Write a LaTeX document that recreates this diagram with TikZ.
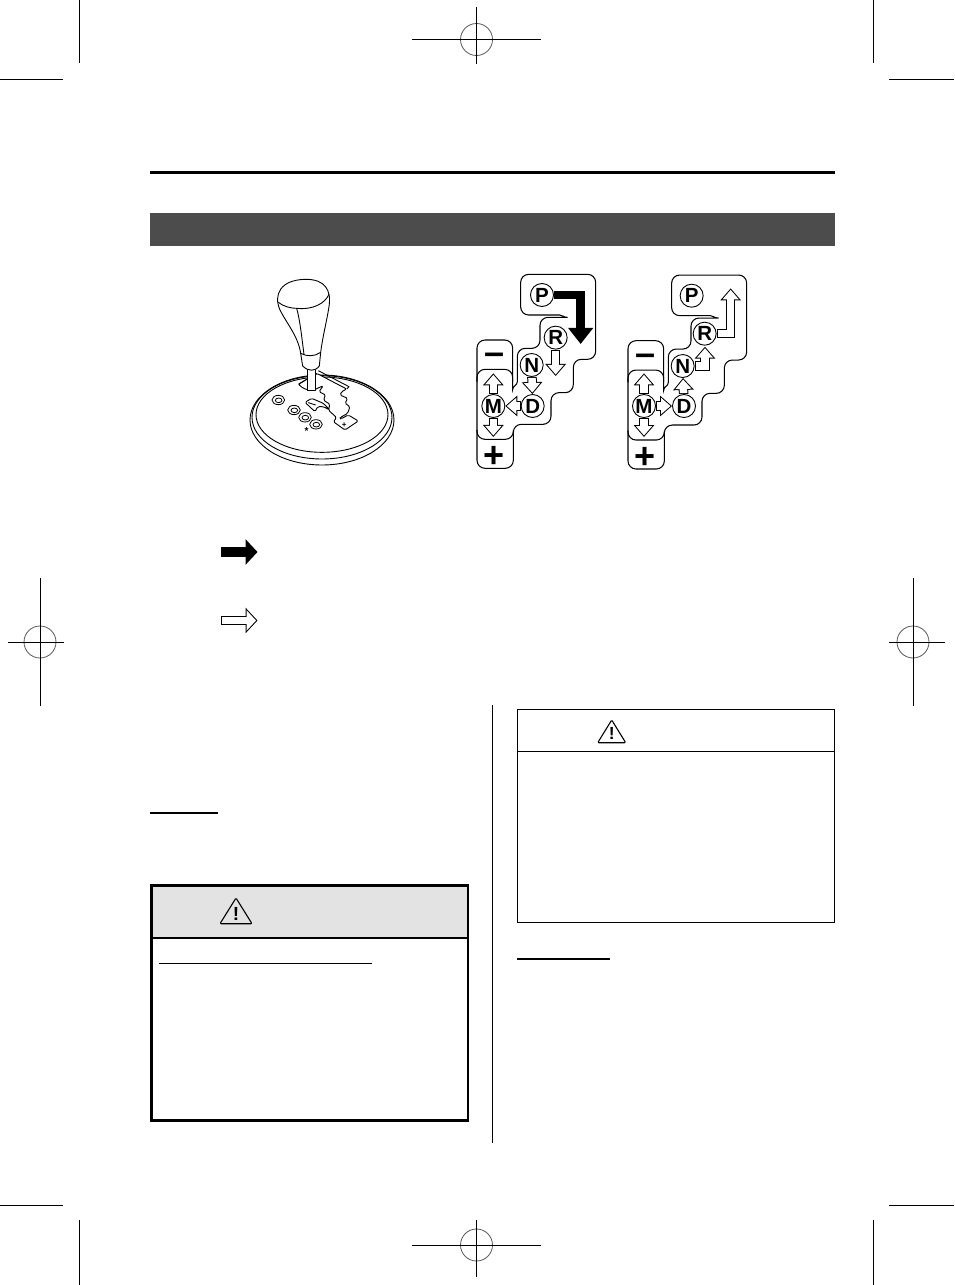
\documentclass[tikz,border=0pt]{standalone}
\usepackage{fontspec}
\setmainfont{Liberation Sans}
\usetikzlibrary{arrows.meta}
\pgfdeclarelayer{arrowlayer}
\pgfsetlayers{arrowlayer,main}
\tikzset{
  crop/.style={line width=1pt,black},
  regring/.style={line width=0.8pt,black!65},
  rule/.style={black,line width=2pt},
  gateline/.style={line width=1.05pt,rounded corners=8pt},
  art/.style={line width=0.9pt,black,line join=round},
  letter/.style={circle,draw=black,line width=0.9pt,fill=white,minimum size=23pt,inner sep=0pt,font=\fontsize{20.5}{21}\selectfont\bfseries},
  sign/.style={inner sep=0pt,font=\fontsize{36}{36}\selectfont\bfseries},
  outerarrow/.style={black,line width=9.5pt,line join=miter,-{Triangle[length=12pt,width=#1pt]}},
  innerarrow/.style={white,line width=7.5pt,line join=miter,shorten >=1.5pt,shorten <=1pt,-{Triangle[length=9.5pt,width=#1pt]}},
  solidarrow/.style={black,line width=#1pt,line join=miter},
  warn/.style={line width=1.1pt,line join=round,rounded corners=1pt}
}
% hollow block arrow: head width, inner head width, path
\newcommand{\hollowarrow}[3]{%
  \begin{pgfonlayer}{arrowlayer}
  \draw[outerarrow=#1] #3;
  \draw[innerarrow=#2] #3;
  \end{pgfonlayer}}
\newcommand{\reg}[6]{% centre x y, line extents
  \draw[regring] (#1,#2) circle (16);
  \draw[crop] (#3,#2) -- (#4,#2);
  \draw[crop] (#1,#5) -- (#1,#6);}
\newcommand{\gateoutline}{%
  \draw[gateline] (157,350) -- (157,250) -- (225,250) -- (225,157) -- (284,157) [sharp corners] .. controls (293,157) and (293,150) .. (284,150) [rounded corners=8pt] -- (167,150) -- (167,28) -- (392,28) -- (392,283) -- (325,283) -- (325,383) -- (258,383) -- (258,478) -- (145,478) -- (145,610) -- (36,610) -- (36,225) -- (143,225) -- (143,350) [sharp corners] .. controls (143,362) and (157,362) .. (157,350);
  \draw[gateline] (36,350) -- (36,313) -- (143,313) -- (143,350);
  \draw[gateline] (36,495) -- (36,523) -- (145,523) -- (145,495);
  \node[sign] (minus) at (88,281) {\raisebox{-0.27em}{\rule{0pt}{0pt}–}};
  \node[sign] (plus) at (88,577) {+};}
\begin{document}
\begin{tikzpicture}[x=1pt,y=-1pt]
\useasboundingbox (0,0) rectangle (954,1285);
% crop marks
\draw[crop] (79,0) -- (79,63);
\draw[crop] (0,79) -- (63,79);
\draw[crop] (873,0) -- (873,63);
\draw[crop] (889,79) -- (954,79);
\draw[crop] (0,1205) -- (63,1205);
\draw[crop] (79,1220) -- (79,1285);
\draw[crop] (889,1205) -- (954,1205);
\draw[crop] (873,1220) -- (873,1285);
\reg{476.5}{39.5}{412}{541}{7}{64}
\reg{476.5}{1245}{412}{541}{1220}{1277}
\reg{40}{642}{8}{64}{578}{706}
\reg{913}{642}{889}{945}{578}{706}
% header
\draw[black,line width=3pt] (150,172) -- (835,172);
\fill[black!70] (150,213) rectangle (835,246);
% gear lever: plate
\begin{scope}[shift={(250,360)},x=0.3333pt,y=-0.3333pt]
  \draw[art] (216,180) ellipse [x radius=216,y radius=135];
  \draw[art] (216,172) ellipse [x radius=210,y radius=125];
  \draw[art] (216,164) ellipse [x radius=198,y radius=113];
\end{scope}
% gear lever: gate slot
\begin{scope}[shift={(295,365)},x=0.3333pt,y=-0.3333pt]
  \draw[art,fill=white,rounded corners=1.5pt] (10,58) -- (25,70) -- (50,78) -- (85,62) -- (72,80) -- (92,90) -- (85,105) -- (105,118) -- (100,135) -- (125,158) -- (115,170) -- (150,195) -- (190,168) -- (160,150) -- (137,162) -- (135,158) -- (158,145) -- (165,125) -- (150,115) -- (158,100) -- (135,90) -- (140,80) -- (155,72) -- (65,25) -- cycle;
  \draw[art] (10,58) -- (65,25);
  \draw[art] (70,17) -- (162,65) -- (155,72);
  \draw[art,fill=white,rounded corners=1.5pt] (30,112) -- (50,100) -- (85,115) -- (105,135) -- (85,125) -- (68,125) -- (60,140) -- cycle;
  \draw[art] (40,113) -- (62,120);
  \node[inner sep=0pt,font=\fontsize{8}{8}\selectfont\bfseries] (tabplus) at (148,180) {+};
\end{scope}
% gear lever: selector rings
\begin{scope}[shift={(255,385)},x=0.3333pt,y=-0.3333pt]
  \foreach \rx/\ry in {70/45,117/75,150/97,183/118}{
    \draw[art,line width=0.8pt] (\rx,\ry) ellipse [x radius=19,y radius=14];
    \draw[art,line width=0.8pt] (\rx+1,\ry+1) ellipse [x radius=10,y radius=7];
  }
  \node[inner sep=0pt,font=\fontsize{10}{10}\selectfont\bfseries] (star) at (155,139) {*};
\end{scope}
% gear lever: knob
\begin{scope}[shift={(230,265)},x=0.3333pt,y=-0.3333pt]
  \draw[art,fill=white] (232,312) -- (232,375) -- (256,375) -- (256,312);
  \draw[art,fill=white] (212,265) -- (218,303) .. controls (235,320) and (255,320) .. (268,303) -- (272,262) -- cycle;
  \draw[art,fill=white] (212,265) .. controls (205,215) and (170,175) .. (150,135) .. controls (130,90) and (150,45) .. (225,43) .. controls (285,42) and (305,75) .. (297,125) .. controls (290,170) and (278,215) .. (272,262) .. controls (255,275) and (230,275) .. (212,265) -- cycle;
  \draw[art] (145,112) .. controls (160,125) and (185,130) .. (200,130) .. controls (210,165) and (215,215) .. (222,268);
  \draw[art] (200,130) .. controls (250,135) and (285,115) .. (297,88);
\end{scope}
% first pattern
\begin{scope}[shift={(465,265)},x=0.3333pt,y=-0.3333pt]
  \gateoutline
  \node[letter] (P1) at (231,90) {P};
  \node[letter] (R1) at (272,218) {R};
  \node[letter] (N1) at (200,300) {N};
  \node[letter] (D1) at (203,423) {D};
  \node[letter] (M1) at (85,423) {M};
  \coordinate (Ptip1) at (347,237);
  \coordinate (Rtip1) at (272,333);
  \coordinate (Mup1) at (85,325);
  \coordinate (Mdn1) at (85,516);
  \begin{pgfonlayer}{arrowlayer}
  \draw[solidarrow=8.5,-{Triangle[length=16pt,width=24pt]}] (P1) -| (Ptip1);
  \end{pgfonlayer}
  \hollowarrow{20}{15.7}{(R1) -- (Rtip1)}
  \hollowarrow{20}{15.7}{(N1) -- (D1)}
  \hollowarrow{20}{15.7}{(D1) -- (M1)}
  \hollowarrow{20}{15.7}{(M1) -- (Mup1)}
  \hollowarrow{20}{15.7}{(M1) -- (Mdn1)}
\end{scope}
% second pattern
\begin{scope}[shift={(616,265.7)},x=0.3333pt,y=-0.3333pt]
  \gateoutline
  \node[letter] (P2) at (227,90) {P};
  \node[letter] (R2) at (266,204) {R};
  \node[letter] (N2) at (200,301) {N};
  \node[letter] (D2) at (204,421) {D};
  \node[letter] (M2) at (84,421) {M};
  \coordinate (Rtip2) at (344,68);
  \coordinate (Ntip2) at (267,243);
  \coordinate (Mup2) at (84,323);
  \coordinate (Mdn2) at (84,514);
  \hollowarrow{20}{15.7}{(R2) -| (Rtip2)}
  \hollowarrow{20}{15.7}{(N2) -| (Ntip2)}
  \hollowarrow{20}{15.7}{(D2) -- (N2)}
  \hollowarrow{20}{15.7}{(M2) -- (D2)}
  \hollowarrow{20}{15.7}{(M2) -- (Mup2)}
  \hollowarrow{20}{15.7}{(M2) -- (Mdn2)}
\end{scope}
% legend arrows
\coordinate (la) at (221,552);
\coordinate (lb) at (257.5,552);
\coordinate (lc) at (221,620.5);
\coordinate (ld) at (257.5,620.5);
\draw[solidarrow=10,-{Triangle[length=12pt,width=25pt]}] (la) -- (lb);
\hollowarrow{25}{20}{(lc) -- (ld)}
% short rules and divider
\draw[rule] (150,813) -- (218,813);
\draw[rule] (517,958.5) -- (610,958.5);
\draw[black,line width=1pt] (492.5,705) -- (492.5,1143);
% left warning box
\fill[black!11] (151,885) rectangle (468,937.5);
\draw[black,line width=2.5pt] (151.3,885.3) rectangle (467.8,1120.7);
\draw[black,line width=2pt] (151.3,937.7) -- (467.8,937.7);
\draw[black,line width=1pt] (159,963.3) -- (372,963.3);
\draw[warn] (236,898) -- (252,923.7) -- (220,923.7) -- cycle;
\node[inner sep=0pt,font=\fontsize{19}{19}\selectfont\bfseries] (excl1) at (236,914) {!};
% right warning box
\draw[black,line width=1.1pt] (517.5,709.5) rectangle (834.3,922.3);
\draw[black,line width=1.1pt] (517.5,751.3) -- (834.3,751.3);
\draw[warn] (611.7,720) -- (625.7,742.7) -- (597.7,742.7) -- cycle;
\node[inner sep=0pt,font=\fontsize{17.5}{17.5}\selectfont\bfseries] (excl2) at (611.7,733.5) {!};
\end{tikzpicture}
\end{document}
